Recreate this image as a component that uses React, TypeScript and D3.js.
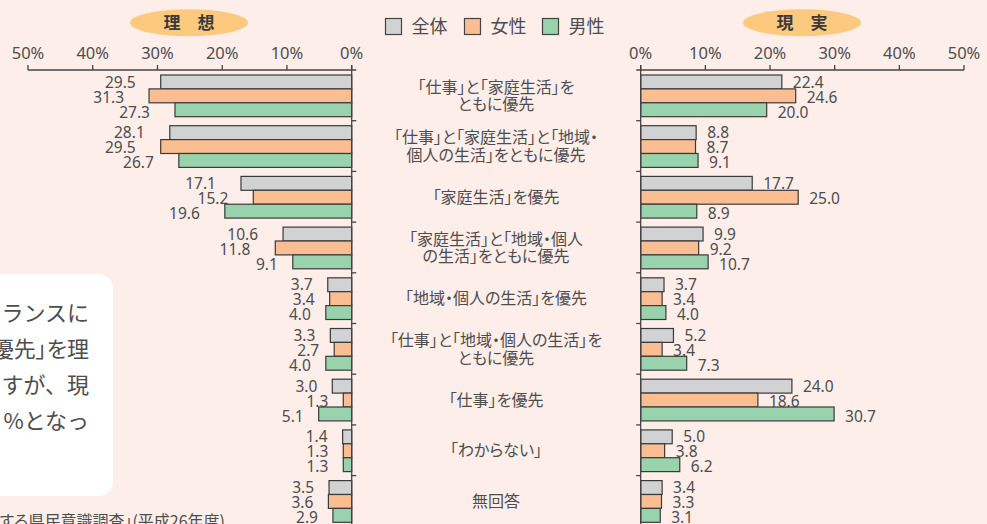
import React, { useEffect } from "react";
import * as d3 from "d3";

const categories: string[][] = [
  ["「仕事」と「家庭生活」を", "ともに優先"],
  ["「仕事」と「家庭生活」と「地域・", "個人の生活」をともに優先"],
  ["「家庭生活」を優先"],
  ["「家庭生活」と「地域・個人", "の生活」をともに優先"],
  ["「地域・個人の生活」を優先"],
  ["「仕事」と「地域・個人の生活」を", "ともに優先"],
  ["「仕事」を優先"],
  ["「わからない」"],
  ["無回答"],
];

const seriesNames = ["全体", "女性", "男性"];

const idealAll = [29.5, 28.1, 17.1, 10.6, 3.7, 3.3, 3.0, 1.4, 3.5];
const idealFemale = [31.3, 29.5, 15.2, 11.8, 3.4, 2.7, 1.3, 1.3, 3.6];
const idealMale = [27.3, 26.7, 19.6, 9.1, 4.0, 4.0, 5.1, 1.3, 2.9];

const realAll = [22.4, 8.8, 17.7, 9.9, 3.7, 5.2, 24.0, 5.0, 3.4];
const realFemale = [24.6, 8.7, 25.0, 9.2, 3.4, 3.4, 18.6, 3.8, 3.3];
const realMale = [20.0, 9.1, 8.9, 10.7, 4.0, 7.3, 30.7, 6.2, 3.1];

const tickValues = [0, 10, 20, 30, 40, 50];

const noteLines = ["ランスに", "優先」を理", "すが、現", "%となっ"];
const sourceText = "「仕事と生活の調和に関する県民意識調査」(平成26年度)";

const COLORS = ["#d1d2d4", "#fbbe93", "#98d3ae"];
const BG = "#fdeeea";
const TXT = "#4d4d4d";
const FONT = "'Noto Sans CJK JP', 'Noto Sans', sans-serif";
const NUMFONT = "'Noto Sans', 'Open Sans', sans-serif";
const PALT = { fontFeatureSettings: '"palt"' } as React.CSSProperties;

export default function App() {
  useEffect(() => {
    document.body.style.margin = "0";
  }, []);

  const W = 987;
  const H = 524;
  const axisY = 70;
  const groupH = 50.7;

  const xL = d3.scaleLinear().domain([0, 50]).range([351.7, 28]);
  const xR = d3.scaleLinear().domain([0, 50]).range([640.7, 964]);
  // the right-hand bars in the source are drawn slightly shorter than the axis
  const xRbar = d3.scaleLinear().domain([0, 50]).range([640.7, 955.7]);
  const yG = d3
    .scaleBand<number>()
    .domain(d3.range(categories.length))
    .range([axisY, axisY + groupH * categories.length])
    .padding(0);
  const yS = d3.scaleBand<number>().domain([0, 1, 2]).range([5, 46.7]).padding(0);

  const ideal = [idealAll, idealFemale, idealMale];
  const real = [realAll, realFemale, realMale];

  const fmt = d3.format(".1f");

  return (
    <svg
      width={W}
      height={H}
      style={{ position: "absolute", left: 0, top: 0, display: "block" }}
      fontFamily={FONT}
    >
      <rect x={0} y={0} width={W} height={H} fill={BG} />

      {/* note box */}
      <rect x={-30} y={274} width={143} height={222} rx={14} fill="#ffffff" />
      {noteLines.map((t, i) => (
        <text
          key={i}
          x={89}
          y={321 + i * 36}
          textAnchor="end"
          fontSize={22}
          fill={TXT}
          style={t.includes("」") ? PALT : undefined}
        >
          {t}
        </text>
      ))}
      <text x={225} y={527} textAnchor="end" fontSize={16} fill={TXT} style={PALT}>
        {sourceText}
      </text>

      {/* headers */}
      <ellipse cx={189} cy={22.7} rx={59} ry={13.5} fill="#fcc97e" />
      <text x={189} y={29} textAnchor="middle" fontSize={17} fontWeight="bold" fill="#3a3a3a">
        理　想
      </text>
      <ellipse cx={802} cy={22.7} rx={59} ry={13.5} fill="#fcc97e" />
      <text x={802} y={29} textAnchor="middle" fontSize={17} fontWeight="bold" fill="#3a3a3a">
        現　実
      </text>

      {/* legend */}
      {seriesNames.map((n, i) => {
        const lx = [385.5, 464.5, 542.5][i];
        return (
          <g key={n}>
            <rect x={lx} y={18.5} width={16} height={16} fill={COLORS[i]} stroke="#444" strokeWidth={1.2} />
            <text x={lx + 26} y={32.5} fontSize={18} fill={TXT}>
              {n}
            </text>
          </g>
        );
      })}

      {/* left axis */}
      <g stroke="#444" strokeWidth={1.3} fill="none">
        <line x1={xL(50)} x2={xL(0) + 4.5} y1={axisY} y2={axisY} />
        {tickValues.map((t) => (
          <line key={t} x1={xL(t)} x2={xL(t)} y1={axisY - 5} y2={axisY} />
        ))}
        {d3.range(1, categories.length).map((i) => (
          <line key={i} x1={xL(0)} x2={xL(0) + 4.5} y1={yG(i)!} y2={yG(i)!} />
        ))}
      </g>
      {tickValues.map((t) => (
        <text key={t} x={xL(t)} y={59} textAnchor="middle" fontSize={16.5} fill={TXT} fontFamily={NUMFONT}>
          {t}%
        </text>
      ))}

      {/* right axis */}
      <g stroke="#444" strokeWidth={1.3} fill="none">
        <line x1={xR(0) - 4.5} x2={xR(50)} y1={axisY} y2={axisY} />
        {tickValues.map((t) => (
          <line key={t} x1={xR(t)} x2={xR(t)} y1={axisY - 5} y2={axisY} />
        ))}
        {d3.range(1, categories.length).map((i) => (
          <line key={i} x1={xR(0) - 4.5} x2={xR(0)} y1={yG(i)!} y2={yG(i)!} />
        ))}
      </g>
      {tickValues.map((t) => (
        <text key={t} x={xR(t)} y={59} textAnchor="middle" fontSize={16.5} fill={TXT} fontFamily={NUMFONT}>
          {t}%
        </text>
      ))}

      {/* bars */}
      {categories.map((_, ci) => {
        const gy = yG(ci)!;
        return (
          <g key={ci}>
            {ideal.map((s, si) => {
              const v = s[ci];
              const y = gy + yS(si)!;
              return (
                <g key={"i" + si}>
                  <rect
                    x={xL(v)}
                    y={y}
                    width={xL(0) - xL(v)}
                    height={yS.bandwidth()}
                    fill={COLORS[si]}
                    stroke="#3a3a3a"
                    strokeWidth={1.2}
                  />
                  <text
                    x={xL(v) - (v >= 10 ? 25 : 15)}
                    y={gy + 5 + 7 + si * 15 + 5.5}
                    textAnchor="end"
                    fontSize={15.5}
                    fill={TXT}
                    fontFamily={NUMFONT}
                  >
                    {fmt(v)}
                  </text>
                </g>
              );
            })}
            {real.map((s, si) => {
              const v = s[ci];
              const y = gy + yS(si)!;
              return (
                <g key={"r" + si}>
                  <rect
                    x={xRbar(0)}
                    y={y}
                    width={xRbar(v) - xRbar(0)}
                    height={yS.bandwidth()}
                    fill={COLORS[si]}
                    stroke="#3a3a3a"
                    strokeWidth={1.2}
                  />
                  <text
                    x={xRbar(v) + 11}
                    y={gy + 5 + 7 + si * 15 + 5.5}
                    textAnchor="start"
                    fontSize={15.5}
                    fill={TXT}
                    fontFamily={NUMFONT}
                  >
                    {fmt(v)}
                  </text>
                </g>
              );
            })}
          </g>
        );
      })}

      {/* axis vertical lines drawn over bars */}
      <line x1={xL(0)} x2={xL(0)} y1={axisY - 5} y2={H} stroke="#444" strokeWidth={1.3} />
      <line x1={xR(0)} x2={xR(0)} y1={axisY - 5} y2={H} stroke="#444" strokeWidth={1.3} />

      {/* category labels */}
      {categories.map((lines, ci) => {
        const cy = yG(ci)! + groupH / 2;
        const n = lines.length;
        return (
          <text key={ci} textAnchor="middle" fontSize={16} fill={TXT} style={PALT}>
            {lines.map((l, li) => (
              <tspan key={li} x={496} y={cy + (li - (n - 1) / 2) * 17.5 + 6}>
                {l}
              </tspan>
            ))}
          </text>
        );
      })}
    </svg>
  );
}
